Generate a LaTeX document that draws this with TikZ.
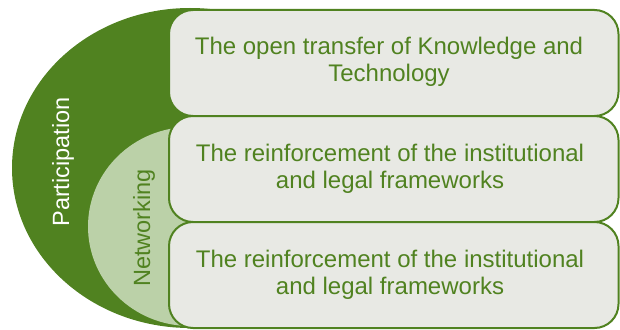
\documentclass[tikz,border=0pt]{standalone}
\usepackage{fontspec}
\setmainfont{Liberation Sans}
\definecolor{dkgreen}{RGB}{80,130,32}
\definecolor{ltgreen}{RGB}{187,209,168}
\definecolor{boxfill}{RGB}{232,233,228}
\tikzset{
  itembox/.style={draw=dkgreen, line width=2pt, fill=boxfill, rounded corners=24pt,
    minimum width=449.5pt, minimum height=106pt, inner sep=0pt},
  itemtext/.style={text=dkgreen, align=center, font=\fontsize{24}{27}\selectfont, inner sep=0pt},
  sidelabel/.style={rotate=90, font=\fontsize{23.5}{27}\selectfont, inner sep=0pt}
}
\begin{document}
\begin{tikzpicture}[x=1pt,y=1pt]
\useasboundingbox (0,0) rectangle (620,-329);
\fill[dkgreen] (190,-168) ellipse [x radius=178, y radius=160];
\fill[ltgreen] (190,-226.5) ellipse [x radius=102, y radius=99.5];
\node[itembox] (b1) at (393.75,-63) {};
\node[itembox] (b2) at (393.75,-169) {};
\node[itembox] (b3) at (393.75,-275) {};
\node[itemtext] (t1) at (389,-62) {The open transfer of Knowledge and\\Technology};
\node[itemtext] (t2) at (390,-168.5) {The reinforcement of the institutional\\and legal frameworks};
\node[itemtext] (t3) at (390,-275) {The reinforcement of the institutional\\and legal frameworks};
\node[sidelabel, text=white] (p) at (63,-162) {Participation};
\node[sidelabel, text=dkgreen] (n) at (144,-228) {Networking};
\end{tikzpicture}
\end{document}
